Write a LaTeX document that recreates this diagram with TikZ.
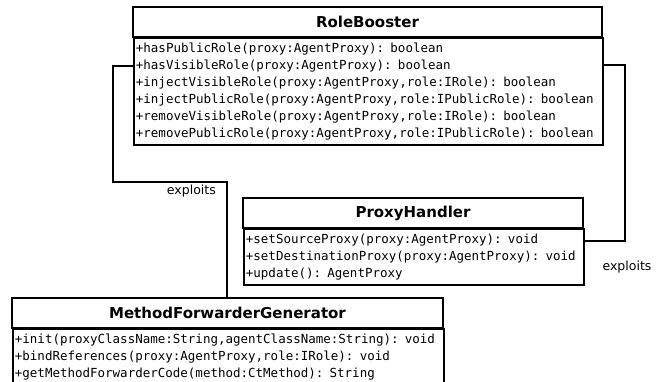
\documentclass[tikz,border=0pt]{standalone}
\usepackage{fontspec}
\setmainfont{DejaVu Sans}
\newfontfamily\codefont{DejaVu Sans Mono}
\usepackage{tikz}
\usetikzlibrary{calc}

\tikzset{
  classname/.style={draw, line width=1.8pt, minimum height=30pt, inner sep=0pt,
    font=\fontsize{15}{18}\selectfont\bfseries},
  classbody/.style={draw, line width=1.8pt, anchor=north west, align=left,
    inner xsep=2pt, inner ysep=0pt, font=\codefont\fontsize{12.5}{17}\selectfont},
  link/.style={line width=1.8pt},
  linklabel/.style={font=\fontsize{12.5}{15}\selectfont, inner sep=2pt}
}

\begin{document}
\begin{tikzpicture}[x=1pt,y=-1pt]
            \useasboundingbox (0,0) rectangle (665,381);
            % RoleBooster
            \node[classname, minimum width=469pt] (rbtitle) at (367.5,22) {RoleBooster};
            \node[classbody, text width=465pt, minimum height=107pt] (rbbody) at (133,37)
              {+hasPublicRole(proxy:AgentProxy): boolean\\
               +hasVisibleRole(proxy:AgentProxy): boolean\\
               +injectVisibleRole(proxy:AgentProxy,role:IRole): boolean\\
               +injectPublicRole(proxy:AgentProxy,role:IPublicRole): boolean\\
               +removeVisibleRole(proxy:AgentProxy,role:IRole): boolean\\
               +removePublicRole(proxy:AgentProxy,role:IPublicRole): boolean};
            % ProxyHandler
            \node[classname, minimum width=340pt] (phtitle) at (413,213) {ProxyHandler};
            \node[classbody, text width=336pt, minimum height=56pt] (phbody) at (243,228)
              {+setSourceProxy(proxy:AgentProxy): void\\
               +setDestinationProxy(proxy:AgentProxy): void\\
               +update(): AgentProxy};
            % MethodForwarderGenerator
            \node[classname, minimum width=431pt] (mfgtitle) at (227.5,313) {MethodForwarderGenerator};
            \node[classbody, text width=427pt, minimum height=56pt] (mfgbody) at (12,328)
              {+init(proxyClassName:String,agentClassName:String): void\\
               +bindReferences(proxy:AgentProxy,role:IRole): void\\
               +getMethodForwarderCode(method:CtMethod): String};
            \draw[link] ([yshift=-29pt]rbbody.north west) -- ++(-20,0) -- ++(0,116)
              -| ([xshift=216pt]mfgtitle.north west);
            \node[linklabel, anchor=north east] (lbl1) at (218,183) {exploits};
            \draw[link] ([yshift=-28pt]rbbody.north east) -- ++(21,0)
              |- ([yshift=-13pt]phbody.north east);
            \node[linklabel] (lbl2) at (627,267) {exploits};
        \end{tikzpicture}
\end{document}
